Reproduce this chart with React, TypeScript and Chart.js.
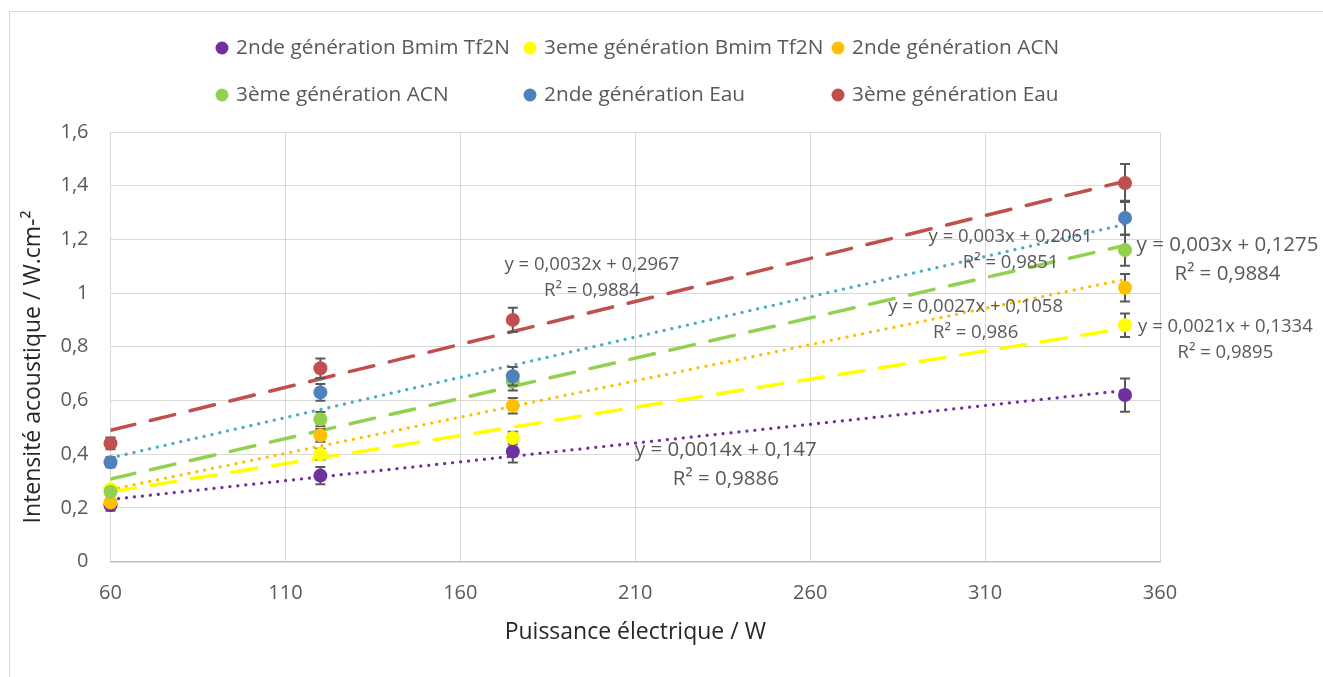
import React, { useEffect, useRef } from 'react';
import { Chart, registerables } from 'chart.js';

Chart.register(...registerables);

// ---------- data ----------
const xValues = [60, 120, 175, 350];

const seriesNames = [
  '2nde génération Bmim Tf2N',
  '3eme génération Bmim Tf2N',
  '2nde génération ACN',
  '3ème génération ACN',
  '2nde génération Eau',
  '3ème génération Eau',
];

const bmim2 = [0.21, 0.32, 0.41, 0.62];
const bmim3 = [0.27, 0.40, 0.46, 0.88];
const acn2 = [0.22, 0.47, 0.58, 1.02];
const acn3 = [0.26, 0.53, 0.67, 1.16];
const eau2 = [0.37, 0.63, 0.69, 1.28];
const eau3 = [0.44, 0.72, 0.90, 1.41];

const bmim2Err = [0.021, 0.032, 0.041, 0.062];
const bmim3Err = [0.0135, 0.02, 0.023, 0.044];
const acn2Err = [0.011, 0.0235, 0.029, 0.051];
const acn3Err = [0.013, 0.0265, 0.033, 0.058];
const eau2Err = [0.0185, 0.0315, 0.0345, 0.064];
const eau3Err = [0.022, 0.036, 0.045, 0.0705];

// trendline coefficients (as displayed)
const trendSlopes = [0.0014, 0.0021, 0.0027, 0.003, 0.003, 0.0032];
const trendIntercepts = [0.147, 0.1334, 0.1058, 0.1275, 0.2061, 0.2967];
const trendRange = [60, 350];

const eqTexts = [
  'y = 0,0014x + 0,147',
  'y = 0,0021x + 0,1334',
  'y = 0,0027x + 0,1058',
  'y = 0,003x + 0,1275',
  'y = 0,003x + 0,2061',
  'y = 0,0032x + 0,2967',
];
const r2Texts = ['R² = 0,9886', 'R² = 0,9895', 'R² = 0,986', 'R² = 0,9884', 'R² = 0,9851', 'R² = 0,9884'];

const xTitle = 'Puissance électrique / W';
const yTitle = 'Intensité acoustique / W.cm-²';

// ---------- styling / placement ----------
const seriesValues = [bmim2, bmim3, acn2, acn3, eau2, eau3];
const seriesErrors = [bmim2Err, bmim3Err, acn2Err, acn3Err, eau2Err, eau3Err];
const pointColors = ['#7030A0', '#FFFF00', '#FFC000', '#92D050', '#4F81BD', '#C0504D'];
const trendColors = ['#7030A0', '#FFFF00', '#FFC000', '#92D050', '#4BACC6', '#C0504D'];
const trendDotted = [true, false, true, false, true, false];

const eqLabelX = [235.9, 378.7, 307.3, 379.3, 317.3, 197.6];
const eqLabelY = [0.415, 0.874, 0.948, 1.179, 1.209, 1.105];
const eqFontSize = [20.5, 18.5, 18.5, 20.5, 18.5, 18.5];

const TEXT = '#595959';
const TITLE = '#262626';
const FONT = '"Open Sans", sans-serif';

const legendCols = [222, 530, 838];
const legendRows = [48, 95];

const frameP = {
  id: 'frame',
  beforeDraw(chart: any) {
    const ctx = chart.ctx;
    ctx.save();
    ctx.fillStyle = '#ffffff';
    ctx.fillRect(0, 0, chart.width, chart.height);
    ctx.strokeStyle = '#D9D9D9';
    ctx.lineWidth = 1;
    ctx.strokeRect(9.5, 11.5, 1400, 700);
    ctx.restore();
  },
  afterDraw(chart: any) {
    const ctx = chart.ctx;
    ctx.save();
    ctx.translate(33, 367);
    ctx.rotate(-Math.PI / 2);
    ctx.fillStyle = TITLE;
    ctx.font = `23px ${FONT}`;
    ctx.textAlign = 'center';
    ctx.textBaseline = 'middle';
    ctx.fillText(yTitle, 0, 0);
    ctx.restore();
  },
};

const errorBarP = {
  id: 'errorBars',
  beforeDatasetDraw(chart: any, args: any) {
    const i = args.index;
    if (i >= seriesValues.length) return;
    const xs = chart.scales.x;
    const ys = chart.scales.y;
    const ctx = chart.ctx;
    ctx.save();
    ctx.strokeStyle = '#595959';
    ctx.lineWidth = 2;
    xValues.forEach((xv, k) => {
      const px = xs.getPixelForValue(xv);
      const v = seriesValues[i][k];
      const e = seriesErrors[i][k];
      const top = ys.getPixelForValue(v + e);
      const bot = ys.getPixelForValue(v - e);
      ctx.beginPath();
      ctx.moveTo(px, top);
      ctx.lineTo(px, bot);
      ctx.moveTo(px - 5, top);
      ctx.lineTo(px + 5, top);
      ctx.moveTo(px - 5, bot);
      ctx.lineTo(px + 5, bot);
      ctx.stroke();
    });
    ctx.restore();
  },
};

const labelsP = {
  id: 'eqLabels',
  afterDatasetsDraw(chart: any) {
    const xs = chart.scales.x;
    const ys = chart.scales.y;
    const ctx = chart.ctx;
    ctx.save();
    ctx.fillStyle = TEXT;
    ctx.textAlign = 'center';
    ctx.textBaseline = 'middle';
    eqTexts.forEach((t, i) => {
      const px = xs.getPixelForValue(eqLabelX[i]);
      const py = ys.getPixelForValue(eqLabelY[i]);
      ctx.font = `${eqFontSize[i]}px ${FONT}`;
      ctx.fillText(t, px, py);
      ctx.fillText(r2Texts[i], px, py + eqFontSize[i] * 1.4);
    });
    ctx.restore();
  },
};

const legendP = {
  id: 'customLegend',
  afterDraw(chart: any) {
    const ctx = chart.ctx;
    ctx.save();
    ctx.textBaseline = 'middle';
    ctx.textAlign = 'left';
    ctx.font = `20.8px ${FONT}`;
    seriesNames.forEach((name, i) => {
      const x = legendCols[i % 3];
      const y = legendRows[Math.floor(i / 3)];
      ctx.beginPath();
      ctx.arc(x, y, 6.5, 0, Math.PI * 2);
      ctx.fillStyle = pointColors[i];
      ctx.fill();
      ctx.fillStyle = TEXT;
      ctx.fillText(name, x + 14, y);
    });
    ctx.restore();
  },
};

function buildDatasets() {
  const pts = seriesNames.map((name, i) => ({
    label: name,
    data: xValues.map((x, k) => ({ x, y: seriesValues[i][k] })),
    backgroundColor: pointColors[i],
    borderColor: pointColors[i],
    pointRadius: 7,
    pointBorderWidth: 0,
    showLine: false,
    clip: false,
    order: 6 - i,
  }));
  const trends = seriesNames.map((name, i) => ({
    label: name + ' (tendance)',
    data: trendRange.map((x) => ({ x, y: trendSlopes[i] * x + trendIntercepts[i] })),
    borderColor: trendColors[i],
    backgroundColor: trendColors[i],
    borderWidth: trendDotted[i] ? 3.2 : 3.5,
    borderDash: trendDotted[i] ? [0.1, 7.9] : [25, 16],
    borderCapStyle: 'round',
    pointRadius: 0,
    showLine: true,
    fill: false,
    order: 10,
  }));
  return [...pts, ...trends];
}

export default function App() {
  const ref = useRef<HTMLCanvasElement>(null);
  useEffect(() => {
    if (!ref.current) return;
    const chart = new Chart(ref.current, {
      type: 'scatter',
      data: { datasets: buildDatasets() as any },
      options: {
        animation: false,
        responsive: false,
        events: [],
        layout: { padding: { top: 132, right: 163, bottom: 0, left: 0 } },
        plugins: {
          legend: { display: false },
          title: { display: false },
          tooltip: { enabled: false },
        },
        scales: {
          x: {
            type: 'linear',
            min: 60,
            max: 360,
            ticks: { stepSize: 50, color: TEXT, font: { family: FONT, size: 20 }, padding: 20 },
            grid: { color: '#D9D9D9', drawTicks: false },
            border: { color: '#BFBFBF', width: 1.5 },
            title: {
              display: true,
              text: xTitle,
              color: TITLE,
              font: { family: FONT, size: 23 },
              padding: { top: 4, bottom: 31 },
            },
            afterFit: (s: any) => {
              s.height = 677 - 561.5;
            },
          },
          y: {
            type: 'linear',
            min: 0,
            max: 1.6,
            ticks: {
              stepSize: 0.2,
              color: TEXT,
              font: { family: FONT, size: 20 },
              padding: 22,
              callback: (v: any) => String(Number(Number(v).toFixed(1))).replace('.', ','),
            },
            grid: { color: '#D9D9D9', drawTicks: false },
            border: { display: false },
            title: { display: false },
            afterFit: (s: any) => {
              s.width = 110.5;
            },
          },
        },
      } as any,
      plugins: [frameP, errorBarP, labelsP, legendP],
    });
    return () => chart.destroy();
  }, []);
  return (
    <div style={{ position: 'fixed', left: 0, top: 0, width: 1323, height: 677, background: '#fff' }}>
      <canvas ref={ref} width={1323} height={677} style={{ display: 'block' }} />
    </div>
  );
}
